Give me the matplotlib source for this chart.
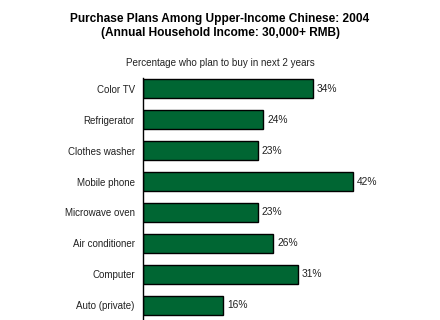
import matplotlib
matplotlib.use("Agg")
import matplotlib.pyplot as plt

categories = ["Color TV", "Refrigerator", "Clothes washer", "Mobile phone",
              "Microwave oven", "Air conditioner", "Computer", "Auto (private)"]
values = [34, 24, 23, 42, 23, 26, 31, 16]

plt.rcParams['font.family'] = ['Liberation Sans', 'DejaVu Sans']

W, H = 440, 320
fig = plt.figure(figsize=(W / 100, H / 100), dpi=100)
fig.patch.set_facecolor("white")

left_px, right_px, top_px = 143, 430, 78
ax = fig.add_axes([left_px / W, 0, (right_px - left_px) / W, 1 - top_px / H])

pos = list(range(len(categories)))
ax.barh(pos, values, height=0.61, color="#006633", edgecolor="black", linewidth=1.0)
ax.set_xlim(0, (right_px - left_px) / 5.0)
ax.set_ylim(7.468, -0.339)

for p, v in zip(pos, values):
    ax.text(v + 0.8, p, f"{v}%", va="center", ha="left", fontsize=7.4, color="#222222")

ax.set_yticks(pos)
ax.set_yticklabels(categories, fontsize=7.0, color="#222222")
ax.tick_params(axis="y", length=0, pad=6)
ax.set_xticks([])
for s in ["top", "right", "bottom"]:
    ax.spines[s].set_visible(False)
ax.spines["left"].set_linewidth(1.0)
ax.spines["left"].set_color("black")

fig.text(0.5, 1 - 19 / H, "Purchase Plans Among Upper-Income Chinese: 2004",
         ha="center", va="center", fontsize=8.6, fontweight="bold", color="black")
fig.text(0.5, 1 - 33 / H, "(Annual Household Income: 30,000+ RMB)",
         ha="center", va="center", fontsize=8.6, fontweight="bold", color="black")
fig.text(0.5, 1 - 63 / H, "Percentage who plan to buy in next 2 years",
         ha="center", va="center", fontsize=7.1, color="#222222")

fig.savefig("out.png", dpi=100)
